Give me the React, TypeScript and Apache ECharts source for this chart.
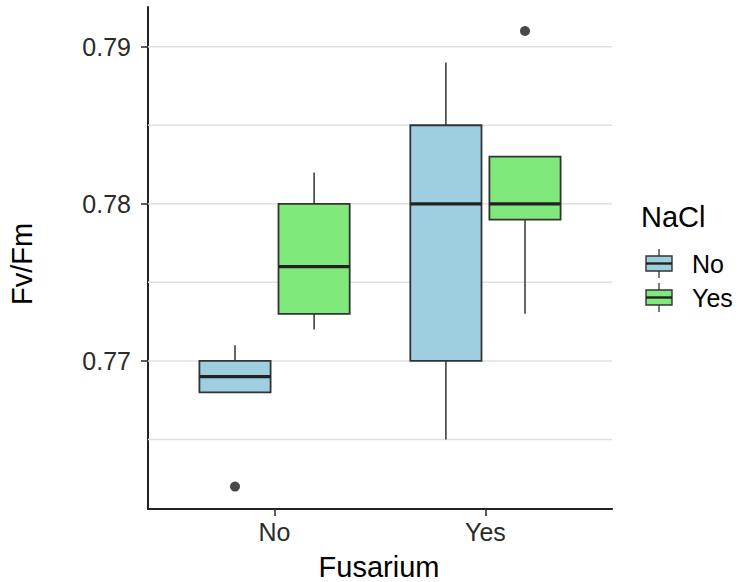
import React, { useEffect, useRef } from "react";
import * as echarts from "echarts";

const fusariumCategories = ["No", "Yes"];
const naclGroups = ["No", "Yes"];
const groupColors = ["#9ECFE1", "#7FEA7B"];

// per NaCl group, one value per Fusarium category
const naclNoLow = [0.768, 0.765];
const naclNoQ1 = [0.768, 0.770];
const naclNoMedian = [0.769, 0.780];
const naclNoQ3 = [0.770, 0.785];
const naclNoHigh = [0.771, 0.789];
const naclNoOutliers = [[0, 0.762]];

const naclYesLow = [0.772, 0.773];
const naclYesQ1 = [0.773, 0.779];
const naclYesMedian = [0.776, 0.780];
const naclYesQ3 = [0.780, 0.783];
const naclYesHigh = [0.782, 0.783];
const naclYesOutliers = [[1, 0.791]];

const yTickValues = [0.77, 0.78, 0.79];
const yGridValues = [0.765, 0.77, 0.775, 0.78, 0.785, 0.79];

const xTitle = "Fusarium";
const yTitle = "Fv/Fm";
const legendTitle = "NaCl";

const FONT = "Liberation Sans, Arial, Helvetica, sans-serif";
const DODGE = 0.1875;
const HALF_W = 0.16875;

export default function App() {
  const ref = useRef<HTMLDivElement>(null);
  useEffect(() => {
    if (!ref.current) return;
    const chart = echarts.init(ref.current, null, { renderer: "svg" });

    const groups = [
      { low: naclNoLow, q1: naclNoQ1, med: naclNoMedian, q3: naclNoQ3, high: naclNoHigh, out: naclNoOutliers },
      { low: naclYesLow, q1: naclYesQ1, med: naclYesMedian, q3: naclYesQ3, high: naclYesHigh, out: naclYesOutliers },
    ];

    const boxSeries: any[] = groups.map((g, gi) => {
      const off = gi === 0 ? -DODGE : DODGE;
      const data = fusariumCategories.map((_, ci) => [ci + 1 + off, g.low[ci], g.q1[ci], g.med[ci], g.q3[ci], g.high[ci]]);
      return {
        type: "custom",
        name: naclGroups[gi],
        z: 3,
        data,
        encode: { x: 0, y: [1, 2, 3, 4, 5] },
        renderItem: (params: any, api: any) => {
          const x = api.value(0);
          const pL = api.coord([x - HALF_W, api.value(2)]);
          const pR = api.coord([x + HALF_W, api.value(4)]);
          const c = api.coord([x, api.value(3)]);
          const lo = api.coord([x, api.value(1)]);
          const hi = api.coord([x, api.value(5)]);
          const q1 = api.coord([x, api.value(2)]);
          const q3 = api.coord([x, api.value(4)]);
          const left = pL[0];
          const right = pR[0];
          return {
            type: "group",
            children: [
              { type: "line", shape: { x1: c[0], y1: hi[1], x2: c[0], y2: q3[1] }, style: { stroke: "#333333", lineWidth: 1.5 } },
              { type: "line", shape: { x1: c[0], y1: q1[1], x2: c[0], y2: lo[1] }, style: { stroke: "#333333", lineWidth: 1.5 } },
              { type: "rect", shape: { x: left, y: q3[1], width: right - left, height: q1[1] - q3[1] }, style: { fill: groupColors[gi], stroke: "#333333", lineWidth: 1.8 } },
              { type: "line", shape: { x1: left, y1: c[1], x2: right, y2: c[1] }, style: { stroke: "#222222", lineWidth: 3.2 } },
            ],
          };
        },
      };
    });

    const outlierSeries: any[] = groups.map((g, gi) => {
      const off = gi === 0 ? -DODGE : DODGE;
      return {
        type: "scatter",
        z: 4,
        symbolSize: 10,
        itemStyle: { color: "#1a1a1a" },
        data: g.out.map((o) => [o[0] + 1 + off, o[1]]),
      };
    });

    const gridSeries = {
      type: "custom",
      z: 1,
      silent: true,
      data: yGridValues.map((v) => [1, v]),
      encode: { x: 0, y: 1 },
      renderItem: (params: any, api: any) => {
        const cs = params.coordSys;
        const p = api.coord([1, api.value(1)]);
        return {
          type: "line",
          shape: { x1: cs.x, y1: p[1], x2: cs.x + cs.width, y2: p[1] },
          style: { stroke: "#e0e0e0", lineWidth: 1.5 },
        };
      },
    };

    const graphics: any[] = [
      { type: "text", x: 379, y: 567, style: { text: xTitle, font: `29px ${FONT}`, fill: "#000000", align: "center", verticalAlign: "middle" } },
      { type: "text", x: 22, y: 264, rotation: Math.PI / 2, style: { text: yTitle, font: `29px ${FONT}`, fill: "#000000", align: "center", verticalAlign: "middle" } },
      { type: "text", x: 641, y: 217, style: { text: legendTitle, font: `29px ${FONT}`, fill: "#000000", verticalAlign: "middle" } },
    ];
    const keyTops = [256, 290];
    const labelCenters = [264, 298];
    naclGroups.forEach((name, i) => {
      const top = keyTops[i];
      graphics.push(
        { type: "line", shape: { x1: 659, y1: top - 7, x2: 659, y2: top + 22 }, style: { stroke: "#333333", lineWidth: 1.3 } },
        { type: "rect", shape: { x: 646, y: top, width: 26, height: 15 }, style: { fill: groupColors[i], stroke: "#333333", lineWidth: 1.4 } },
        { type: "line", shape: { x1: 646, y1: top + 7.5, x2: 672, y2: top + 7.5 }, style: { stroke: "#222222", lineWidth: 2.4 } },
        { type: "text", x: 692, y: labelCenters[i], style: { text: name, font: `25px ${FONT}`, fill: "#000000", verticalAlign: "middle" } },
      );
    });

    chart.setOption({
      animation: false,
      grid: { left: 148, right: 128, top: 7, bottom: 73, containLabel: false, outerBoundsMode: "none" },
      xAxis: {
        type: "value",
        min: 0.4,
        max: 2.6,
        axisLine: { show: true, onZero: false, lineStyle: { color: "#222222", width: 2 } },
        axisTick: { show: true, customValues: [1, 2], length: 7, lineStyle: { color: "#333333", width: 1.6 } },
        axisLabel: {
          customValues: [1, 2],
          formatter: (v: number) => fusariumCategories[Math.round(v) - 1] ?? "",
          fontFamily: FONT,
          fontSize: 25,
          color: "#2b2b2b",
          margin: 10,
        },
        splitLine: { show: false },
      },
      yAxis: {
        type: "value",
        min: 0.760573,
        max: 0.792529,
        axisLine: { show: true, onZero: false, lineStyle: { color: "#222222", width: 2 } },
        axisTick: { show: true, customValues: yTickValues, length: 7, lineStyle: { color: "#333333", width: 1.6 } },
        axisLabel: {
          customValues: yTickValues,
          formatter: (v: number) => v.toFixed(2),
          fontFamily: FONT,
          fontSize: 25,
          color: "#2b2b2b",
          margin: 17,
        },
        splitLine: { show: false },
      },
      series: [gridSeries, ...boxSeries, ...outlierSeries],
      graphic: graphics,
    });
    return () => chart.dispose();
  }, []);
  return <div ref={ref} style={{ width: 740, height: 582, position: "absolute", left: 0, top: 0 }} />;
}
